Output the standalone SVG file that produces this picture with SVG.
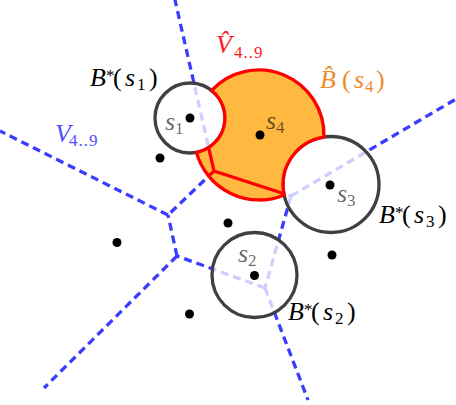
<svg xmlns="http://www.w3.org/2000/svg" width="456" height="405" viewBox="0 0 456 405">
<style>
.vor{fill:none;stroke:#3c3cff;stroke-width:3.3;stroke-dasharray:8 5}
.ball{fill:#fff;fill-opacity:0.75;stroke:#404040;stroke-width:3.3}
.red{fill:none;stroke:#ff0000;stroke-width:3.3;stroke-linejoin:round}
.dot{fill:#000}
text{font-family:"Liberation Serif","Times New Roman",serif;font-size:26px}
.i{font-style:italic}
.sm{font-size:17px}
.gray{fill:#000;fill-opacity:0.6}
</style>
<defs>
<path id="orangeShape" d="M 211.6 90.5 A 65 65 0 0 1 323.95 137.06 A 48 48 0 0 0 284.2 194.9 A 65 65 0 0 1 196.4 152.4 A 35 35 0 0 0 211.6 90.5 Z"/>
<clipPath id="clipO"><use href="#orangeShape"/></clipPath>
</defs>
<g id="connectors">
<path class="vor" d="M168 215 L0 131"/>
<path class="vor" d="M214 171 L175 0"/>
<path class="vor" d="M214 171 L168 215"/>
<path class="vor" d="M214 171 L291 196"/>
<path class="vor" d="M291 196 L456 99"/>
<path class="vor" d="M291 196 L265 288"/>
<path class="vor" d="M265 288 L308 400"/>
<path class="vor" d="M265 288 L177 256"/>
<path class="vor" d="M177 256 L44 388"/>
<path class="vor" d="M177 256 L168 215"/>
</g>
<g id="ball-s1"><circle class="ball" cx="190" cy="118" r="35"/></g>
<g id="ball-s3"><circle class="ball" cx="331" cy="184.5" r="48"/></g>
<g id="ball-s2"><circle class="ball" cx="254.5" cy="275" r="42.5"/></g>
<g id="ball-s4">
<use href="#orangeShape" fill="#ffb940"/>
<g clip-path="url(#clipO)">
<path class="red" d="M175 0 L214 171 L168 215 M214 171 L291 196"/>
</g>
<use href="#orangeShape" class="red"/>
</g>
<g id="points">
<circle class="dot" cx="190" cy="118" r="4.5"/>
<circle class="dot" cx="260" cy="135" r="4.5"/>
<circle class="dot" cx="330" cy="185" r="4.5"/>
<circle class="dot" cx="254.5" cy="275.5" r="4.5"/>
<circle class="dot" cx="160" cy="158" r="4.5"/>
<circle class="dot" cx="228" cy="223" r="4.5"/>
<circle class="dot" cx="117" cy="242.5" r="4.5"/>
<circle class="dot" cx="332" cy="255" r="4.5"/>
<circle class="dot" cx="189.5" cy="314" r="4.5"/>
</g>
<g id="labels">
<text y="86"><tspan x="90" class="i">B</tspan><tspan x="106" dy="-5" class="sm">*</tspan><tspan x="113" dy="5">(</tspan><tspan x="125" class="i">s</tspan><tspan x="137" dy="4" class="sm">1</tspan><tspan x="149" dy="-4">)</tspan></text>
<text y="223"><tspan x="379" class="i">B</tspan><tspan x="395" dy="-5" class="sm">*</tspan><tspan x="402" dy="5">(</tspan><tspan x="414" class="i">s</tspan><tspan x="426" dy="4" class="sm">3</tspan><tspan x="438" dy="-4">)</tspan></text>
<text y="320"><tspan x="288" class="i">B</tspan><tspan x="304" dy="-5" class="sm">*</tspan><tspan x="311" dy="5">(</tspan><tspan x="323" class="i">s</tspan><tspan x="335" dy="4" class="sm">2</tspan><tspan x="347" dy="-4">)</tspan></text>
<text y="88" fill="#f08c28"><tspan x="320" class="i">B̂</tspan><tspan x="342">(</tspan><tspan x="354" class="i">s</tspan><tspan x="365" dy="4" class="sm">4</tspan><tspan x="376" dy="-4">)</tspan></text>
<text y="53" fill="#ff1a1a"><tspan x="216" class="i">V̂</tspan><tspan x="234" dy="5" class="sm" letter-spacing="1">4..9</tspan></text>
<text y="142" fill="#5050ff"><tspan x="55" class="i">V</tspan><tspan x="69" dy="4" class="sm" letter-spacing="1">4..9</tspan></text>
<text y="130" class="gray"><tspan x="165" class="i">s</tspan><tspan x="175" dy="4" class="sm">1</tspan></text>
<text y="129" class="gray"><tspan x="266" class="i">s</tspan><tspan x="276" dy="4" class="sm">4</tspan></text>
<text y="202" class="gray"><tspan x="337" class="i">s</tspan><tspan x="347" dy="4" class="sm">3</tspan></text>
<text y="262" class="gray"><tspan x="238" class="i">s</tspan><tspan x="248" dy="4" class="sm">2</tspan></text>
</g>
</svg>
